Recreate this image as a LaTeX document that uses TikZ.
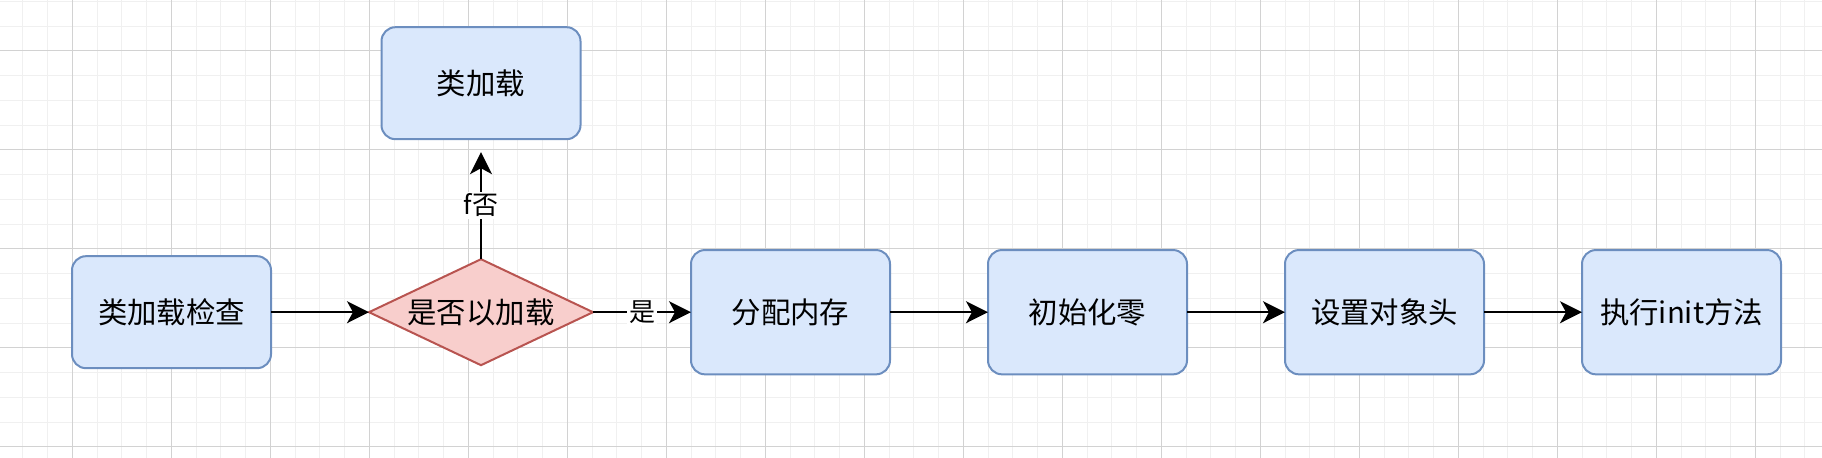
\documentclass[tikz,border=0pt]{standalone}
\usepackage{fontspec}
\setmainfont{Noto Sans CJK SC}
\usepackage{tikz}
\usetikzlibrary{positioning, shapes.geometric, arrows.meta}

\definecolor{boxfill}{HTML}{DAE8FC}
\definecolor{boxline}{HTML}{6C8EBF}
\definecolor{decfill}{HTML}{F8CECC}
\definecolor{decline}{HTML}{B85450}

\begin{document}
\begin{tikzpicture}[
    flow/.style={
      -{Stealth[length=11pt,width=11pt,inset=3pt]},
      line width=1pt, draw=black
    },
    procbox/.style={
      draw=boxline, fill=boxfill, rectangle, rounded corners=7pt, line width=1pt,
      minimum width=99.5pt, minimum height=62.15pt, inner sep=0pt, outer sep=0pt,
      font=\fontsize{14.7}{17}\selectfont
    },
    decbox/.style={
      draw=decline, fill=decfill, diamond, aspect=2.2, line width=1pt,
      minimum width=112pt, minimum height=53pt, inner sep=0pt, outer sep=0pt,
      font=\fontsize{14.7}{17}\selectfont
    },
    lbl/.style={fill=white, inner sep=1pt, font=\fontsize{13}{15}\selectfont}
]

  \useasboundingbox (0pt,0pt) rectangle (911pt,-229pt);

  % Grille
  \foreach \i in {0,...,72}
    \draw[gray!12, line width=0.5pt] (11.45pt+\i*12.375pt,0pt) -- ++(0pt,-229pt);
  \foreach \i in {0,...,18}
    \draw[gray!12, line width=0.5pt] (0pt,-0.75pt-\i*12.375pt) -- ++(911pt,0pt);
  \foreach \i in {0,...,17}
    \draw[gray!35, line width=0.5pt] (36.2pt+\i*49.5pt,0pt) -- ++(0pt,-229pt);
  \foreach \i in {0,...,4}
    \draw[gray!35, line width=0.5pt] (0pt,-25.5pt-\i*49.5pt) -- ++(911pt,0pt);

  % Boîtes
  \node[procbox, minimum height=56pt] (n1) at (85.75pt,-156.1pt) {类加载检查};
  \node[decbox, right=49pt of n1] (n2) {是否以加载};
  \node[procbox, minimum height=56pt, above=60pt of n2] (n3) {类加载};
  \node[procbox, right=49pt of n2] (n4) {分配内存};
  \node[procbox, right=49pt of n4] (n5) {初始化零};
  \node[procbox, right=49pt of n5] (n6) {设置对象头};
  \node[procbox, right=49pt of n6] (n7) {执行init方法};

  % Flèches
  \draw[flow] (n1.east) -- (n2.west);
  \draw[flow, shorten >=6.5pt] (n2.north) -- node[lbl, pos=0.45] {f否} (n3.south);
  \draw[flow] (n2.east) -- node[lbl] {是} (n4.west);
  \draw[flow] (n4.east) -- (n5.west);
  \draw[flow] (n5.east) -- (n6.west);
  \draw[flow] (n6.east) -- (n7.west);
\end{tikzpicture}
\end{document}
